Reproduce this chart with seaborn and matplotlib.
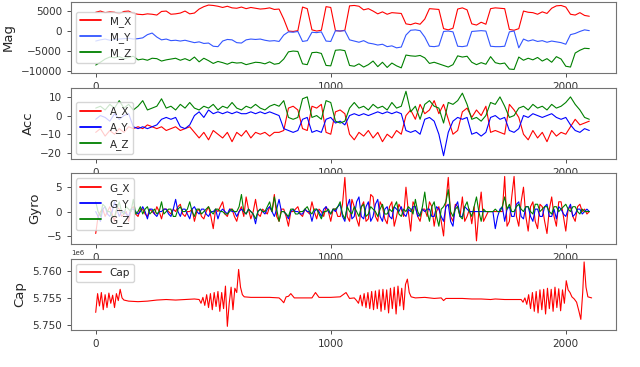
import numpy as np
import pandas as pd
import seaborn as sns
import matplotlib.pyplot as plt

# sample index (every 20th sample) for Mag / Acc, every 10th for Gyro
idx = np.arange(0, 2101, 20)
idx_g = np.arange(0, 2101, 10)

# magnetometer
m_x = [4700, 5000, 4600, 4800, 4700, 4300, 4900, 5000, 4400, 4200,
       4100, 4300, 4200, 4000, 4900, 5000, 4200, 4300, 4500, 5000,
       4300, 4500, 5500, 6100, 6500, 6400, 6200, 5900, 6200, 5800,
       5700, 6000, 5600, 5900, 5700, 5500, 5600, 5800, 5400, 5500,
       3000, 0, -100, 100, 6000, 5600, 300, 0, 200, 6100,
       5900, 100, 0, 200, 6300, 6400, 6200, 5300, 5600, 5000,
       4300, 4800, 4200, 4600, 4500, 4400, 1800, 1600, 2000, 1700,
       3000, 5600, 5500, 5400, 600, 300, 700, 5500, 5800, 5300,
       1800, 1500, 2200, 1700, 5600, 5800, 5700, 5600, 400, 200,
       600, 5000, 4700, 4600, 4200, 4800, 4400, 5700, 6300, 6400,
       6000, 4200, 4000, 4600, 3900, 3700]
m_y = [-2500, -2200, -2000, -2300, -2100, -2000, -1900, -1800, -2000, -1900,
       -1700, -900, -500, -1500, -2200, -2000, -2400, -2300, -2500, -2300,
       -2600, -2900, -2700, -3100, -3000, -3800, -3900, -2500, -2100, -2200,
       -2900, -3000, -2200, -2000, -2100, -2000, -2300, -2500, -2400, -2600,
       -1000, -200, -300, -100, -2600, -2400, -300, -400, -200, -2500,
       -2600, 100, 0, 100, -2200, -2500, -2800, -2400, -3000, -3200,
       -3500, -3300, -3900, -3700, -4200, -4000, -1000, 200, 300, 100,
       -1500, -3800, -3900, -3700, -100, 0, -200, -3800, -3900, -3700,
       -100, 0, 100, 0, -3800, -3900, -3900, -3800, -200, 0,
       -4200, -2000, -2500, -2200, -2600, -2400, -2800, -2500, -2700, -2900,
       -3300, -900, -600, -100, 300, 100]
m_z = [-8500, -7800, -7000, -6500, -6700, -6400, -6900, -6600, -6300, -7200,
       -7000, -7300, -6800, -6900, -7500, -7200, -7000, -6800, -7300, -6900,
       -7400, -6500, -7700, -6800, -7400, -8100, -7600, -7900, -8300, -7800,
       -8000, -7900, -8400, -8100, -7800, -7900, -8200, -7700, -8300, -8100,
       -7000, -5200, -5000, -5100, -8200, -8400, -5400, -5300, -5600, -8600,
       -8700, -4800, -4700, -4900, -8600, -8800, -8200, -9000, -8400, -7500,
       -8900, -7800, -9100, -8000, -8700, -9200, -6000, -6200, -6300, -6100,
       -6700, -8100, -7800, -8200, -8600, -9000, -8400, -6200, -6500, -6300,
       -7800, -8400, -7900, -8300, -6400, -7900, -8200, -8000, -9500, -9600,
       -6500, -7300, -6800, -7200, -6600, -7500, -6900, -7800, -6400, -7000,
       -8800, -9000, -5500, -4800, -4300, -4400]

# accelerometer
a_x = [-9, -7, -11, -8, -10, -7, -9, -6, -7, -6,
       -7, -5, -6, -7, -6, -8, -7, -6, -8, -7,
       -6, -9, -12, -9, -13, -8, -10, -12, -9, -14,
       -9, -11, -8, -12, -9, -10, -9, -11, -9, -9,
       -8, 4, 5, 3, -7, -8, 5, 4, 6, -9,
       -10, 2, 3, 1, -10, -13, -9, -11, -8, -12,
       -9, -14, -10, -12, -8, -10, 0, 3, -2, 6,
       1, 3, 8, 1, 6, -2, -10, -8, 2, 4,
       -1, 3, 0, 5, -9, -8, -9, -10, 6, 3,
       -1, -10, -13, -8, -12, -9, -14, -8, -11, -9,
       -10, -6, -2, -5, -4, -3]
a_y = [-2, 0, -1, -3, 1, -2, 0, 1, -6, -7,
       -6, -7, -6, -5, -2, -1, -2, -1, -6, -7,
       -5, 0, 2, -1, 3, 1, 2, 1, 2, 1,
       2, 1, 1, 2, 1, 2, 1, 2, 1, 0,
       -7, -8, -9, -8, -2, -1, -9, -8, -9, -2,
       -1, -4, -3, -5, 0, 1, 0, 1, 0, 1,
       2, 1, 2, 1, 2, 1, -8, -9, -8, -10,
       -2, -1, -3, -10, -21.5, -9, -3, -1, -2, -1,
       -10, -9, -11, -9, -1, 0, -2, -1, -8, -9,
       -7, 0, -1, 1, 0, -1, 0, 1, -1, -2,
       -1, -5, -8, -9, -7, -8]
a_z = [4, 5, 3, 6, 4, 8, 4, 6, 3, 5,
       8, 3, 4, 5, 9, 4, 5, 3, 6, 4,
       7, 4, 3, 5, 4, 6, 3, 5, 4, 7,
       4, 3, 5, 4, 6, 4, 3, 5, 6, 5,
       8, -1, -2, -1, 9, 10, -1, 0, -2, 8,
       7, -3, -4, -3, 4, 7, 4, 5, 3, 6,
       4, 5, 3, 7, 4, 5, 13, 2, 5, -2,
       6, 8, 5, 4, -4, 7, 6, 8, 12, 6,
       -2, -1, -3, 0, 7, 6, 10, 5, -1, 0,
       4, 5, 3, 6, 4, 5, 3, 6, 4, 5,
       7, 10, 6, 3, -1, -2]

# gyroscope (every 10th sample)
g_x = [-4.5, -1, 0, 0.5, -1, 0, 1, -0.5, -2, 1, 0.5, -1, -0.5, 0, -2, 0.5, 1, -0.5, -1, 0.5,
       0.5, -0.5, -1, 0.5, 0, -0.5, 1, 0, -1.5, 0.5, 0.5, 0, -0.5, 0.5, 0, 1, 1.5, -0.5, -1, 0,
       0, 0.5, -2, 0, 0.5, -1, -1.5, 0, 1, -1, -3.5, 0.5, 0, 1, 2, -0.5, -1, 0.5, 0.5, -1,
       -2, 0, 1, -1, 3, 0.5, -1.5, 0, 2.5, -0.5, -1, 0.5, 0, -0.5, 1, 0, 3.5, -1, -2, 0.5,
       0.5, -1, -3, 0, 0, 0.5, 1, -0.5, -1, 0.5, 0, -0.5, 2, 0, -1.5, 0.5, 0, -1, 1, 0,
       -2, 0.5, 0.5, -1, -1, 1.5, 7, -1, -2, 2.5, 1, -1.5, -3, 1, 2, -2, -1.5, 3.5, 3, -1,
       -2, 2, 1, -1.5, -2.5, 1, 2, -3, -1, 1.5, 0.5, -1, 5, 0, -4, 2, 1, -1, -2, 0.5,
       0.5, -1, 2, 1, -3, 0, 1, -2, -5, 2, 7, -1, -2, 1.5, 1, -1, 3, -2, -1, 0.5,
       -2.5, 1, -6, 0, 4, -2, -1, 0, 0, 0, 0, 0, 0, 0, 7.2, -3, -2, 3, 7.2, -1,
       -3, 2, 5, -1, -4, 1, 2, -2, -3.5, 1.5, 1, -2, -4.5, 0.5, 3, -1, -3, 2, 2, -1,
       -4, 0.5, 1, -1, -2, 1, 1.5, 0, 0.5, -0.5, 0]
g_y = [0, -1, -2, 0.5, 1, -0.5, -1, 0, 2, 0.5, -1, 0, 0, -0.5, -1, 0.5, 0.5, 0, -0.5, 0,
       1, 0, -1.5, 0.5, 0.5, -0.5, -1, 0, 0, 0.5, 0.5, -0.5, -1, 0.5, 2.5, 0, -1, 0.5, 0.5, -0.5,
       -1.5, 0.5, 1, 0, -0.5, 0.5, 0.5, -0.5, -1, 0, 0, 0.5, -1.5, 0, 0.5, 0, -0.5, 0.5, 0, 0,
       -1, 0, 0.5, 0, -0.5, 0.5, 0, -0.5, -2.5, 0, 0.5, 0, -0.5, 0.5, 1, 0, -1, 0.5, 2.5, 0,
       0, -0.5, -1.5, 0, 0.5, 0, 0, -0.5, -0.5, 0.5, 0, 0, -2, 0, 0.5, 0, -1, 0.5, 1, 0,
       -0.5, 0.5, 0, 1, 1.5, -1, -2, 1, 2.5, -1.5, -1, 2, 3, -1, -1.5, 1, 2, -2, -1, 1.5,
       2.5, -1, -2, 0.5, 1, -1, -1.5, 1, 0.5, 0, 1, -0.5, -1, 0.5, 0, 1, 1, -1, -0.5, 0.5,
       0, 0.5, 0.5, -1, -1, 1, 0.5, -1, -2, 1, 1.5, -2, -3, 1, 2, -1, -1, 1, 0.5, 0,
       0, 0, 0, 0, 0, 0, 0, 0, 0, 0, -3.5, -1, 0.5, 1, -2, 0.5, 1, -1, -1, 1.5,
       2, -1, -1.5, 1, 1, -1, -2, 0.5, 0.5, -1, -1, 1, 1.5, -1, -1, 0.5, -1.5, 1, 0.5, -0.5,
       -1, 0.5, 1.5, -1, -0.5, 0.5, 0.5, -0.5, 0, 0.5, 0]
g_z = [2, 0, -1, 1.5, 1, 0, 0, -1, -1, 0.5, 2, 0, -0.5, 1, 0.5, 0, 2.5, -0.5, 0, 1,
       -0.5, 0.5, 1, -0.5, 0, 0.5, -0.5, 0, 2, -0.5, 0, 0.5, 0.5, -1, -1, 0.5, 1, 0, 0, 0.5,
       2, 0, -1, 0.5, 0.5, -0.5, 0, 0.5, 1, 0, -0.5, 0.5, 0.5, 0, 0, -0.5, -0.5, 0, 0.5, 0,
       0, 1, 3.5, 0, -0.5, 0.5, 0, -0.5, -1.5, 0, 0.5, 0, 0, 1, 2, 0, 3, 0.5, -2, 0,
       0, -0.5, -1, 0.5, 0.5, -0.5, -0.5, 0, 0, 0.5, 1, 0, -0.5, 0.5, 0.5, -0.5, -1.5, 0, 0, 0.5,
       -0.5, 0.5, 0.5, 1, 2, -0.5, -1.5, 1, 0, -0.5, 1, 0, -1, 1, 1.5, -1, -0.5, 1, 0.5, 0,
       -1, 0.5, 1.5, -0.5, -0.5, 0.5, 0, 1, 2, -0.5, -1, 0.5, 0, 1, 0.5, -0.5, 2.5, 0, -1, 1,
       4, 0, -2, 1, 2, -1, -3, 0.5, 1, 2, 4.5, 0, -1, 0.5, 1, -1, -1.5, 1, 2, 0,
       -1, 1, 3, 0, -2, 0.5, 0, 0, 0, 0, 0.5, 0, 0, 1, 3, 0.5, 1.5, 0, 0, 1,
       1.5, 0.5, 0, 1, 1, 0, -0.5, 1.5, 1.5, 0, 0.5, 1, 1, 0, -0.5, 1, 1, 0, 0.5, 1,
       1.5, 0.5, 0, 1, 1, 0, -0.5, 0.5, 0, 0, 0]

# capacitance (x 1e6), read at uneven sample positions
cap_idx = [0, 8, 16, 24, 32, 40, 48, 56, 64, 72, 80, 88, 96, 104, 112, 120,
           140, 180, 220, 260, 300, 340, 380, 420, 440,
           448, 456, 464, 472, 480, 488, 496, 504, 512, 520, 528, 536, 544, 552,
           560, 568, 576, 584, 592, 600, 608, 616, 624, 632,
           660, 700, 740, 780, 790, 800, 810, 820, 830, 845, 880, 920, 935, 950,
           1000, 1040, 1065, 1080, 1100,
           1110, 1118, 1126, 1134, 1142, 1150, 1158, 1166, 1174, 1182, 1190, 1198,
           1206, 1214, 1222, 1230, 1238, 1246, 1254, 1262, 1270, 1278, 1286, 1294,
           1302, 1310, 1318, 1326, 1334, 1342,
           1360, 1400, 1440, 1470, 1480, 1490, 1520, 1560, 1600, 1640, 1680, 1700,
           1740, 1780, 1810,
           1818, 1826, 1834, 1842, 1850, 1858, 1866, 1874, 1882, 1890, 1898, 1906,
           1914, 1922, 1930, 1938, 1946, 1954, 1962, 1970, 1978, 1986, 1994, 2002,
           2010, 2018, 2026,
           2036, 2046, 2056, 2064, 2072, 2078, 2086, 2094, 2110]
cap = [5.7523, 5.7558, 5.7535, 5.7560, 5.7528, 5.7556, 5.7532, 5.7559, 5.7540, 5.7555,
       5.7532, 5.7558, 5.7545, 5.7566, 5.7550, 5.7546,
       5.7544, 5.7543, 5.7544, 5.7546, 5.7547, 5.7546, 5.7547, 5.7548, 5.7547,
       5.7540, 5.7551, 5.7536, 5.7556, 5.7532, 5.7558, 5.7528, 5.7560, 5.7534, 5.7562,
       5.7525, 5.7560, 5.7530, 5.7572,
       5.7497, 5.7540, 5.7570, 5.7528, 5.7568, 5.7560, 5.7603, 5.7570, 5.7556, 5.7552,
       5.7551, 5.7551, 5.7551, 5.7550, 5.7546, 5.7541, 5.7552, 5.7553, 5.7558, 5.7550,
       5.7550, 5.7550, 5.7560, 5.7551,
       5.7551, 5.7552, 5.7560, 5.7549, 5.7550,
       5.7545, 5.7540, 5.7555, 5.7535, 5.7558, 5.7532, 5.7560, 5.7530, 5.7562, 5.7528,
       5.7563, 5.7530,
       5.7565, 5.7525, 5.7566, 5.7528, 5.7565, 5.7522, 5.7568, 5.7530, 5.7570, 5.7520,
       5.7572, 5.7535,
       5.7568, 5.7528, 5.7575, 5.7585, 5.7560, 5.7552,
       5.7550, 5.7551, 5.7549, 5.7550, 5.7545, 5.7549, 5.7549, 5.7549, 5.7548, 5.7548,
       5.7547, 5.7548,
       5.7547, 5.7547, 5.7547,
       5.7542, 5.7550, 5.7538, 5.7556, 5.7530, 5.7560, 5.7525, 5.7562, 5.7522, 5.7565,
       5.7528, 5.7566,
       5.7520, 5.7568, 5.7530, 5.7566, 5.7525, 5.7570, 5.7532, 5.7567, 5.7526, 5.7565,
       5.7540, 5.7582,
       5.7565, 5.7560, 5.7552,
       5.7548, 5.7542, 5.7525, 5.7510, 5.7560, 5.7617, 5.7570, 5.7552, 5.7550]

sns.set_style("ticks", {"axes.edgecolor": "0.45", "xtick.color": "0.2", "ytick.color": "0.2"})
plt.rcParams["font.family"] = ["DejaVu Sans"]

fig = plt.figure(figsize=(6.4, 3.67), dpi=100)
pos = [[0.111, 0.802, 0.852, 0.193],
       [0.111, 0.567, 0.852, 0.193],
       [0.111, 0.335, 0.852, 0.193],
       [0.111, 0.102, 0.852, 0.193]]
axes = [fig.add_axes(p) for p in pos]

panels = [
    ("Mag", idx, [("M_X", m_x, "red"), ("M_Y", m_y, "#3355ff"), ("M_Z", m_z, "green")], "center left"),
    ("Acc", idx, [("A_X", a_x, "red"), ("A_Y", a_y, "blue"), ("A_Z", a_z, "green")], "lower left"),
    ("Gyro", idx_g, [("G_X", g_x, "red"), ("G_Y", g_y, "blue"), ("G_Z", g_z, "green")], "upper left"),
    ("Cap", np.array(cap_idx), [("Cap", np.array(cap) * 1e6, "red")], "upper left"),
]

for ax, (name, xs, series, loc) in zip(axes, panels):
    for lab, vals, col in series:
        sns.lineplot(x=xs, y=vals, ax=ax, color=col, label=lab, linewidth=0.8)
    ax.set_ylabel(name, fontsize=9.5)
    ax.set_xlabel("")
    ax.set_xlim(-105, 2215)
    ax.set_xticks([0, 1000, 2000])
    ax.tick_params(labelsize=7.5, length=3, width=0.6)
    leg = ax.legend(loc=loc, fontsize=7.5, framealpha=0.8)
    for ln, (lab, vals, col) in zip(leg.get_lines(), series):
        ln.set_color(col)
        ln.set_linewidth(1.3)
    for s in ax.spines.values():
        s.set_linewidth(0.8)

axes[0].set_yticks([-10000, -5000, 0, 5000])
axes[1].set_yticks([-20, -10, 0, 10])
axes[2].set_yticks([-5, 0, 5])
axes[3].set_yticks([5.750e6, 5.755e6, 5.760e6])
axes[3].ticklabel_format(axis="y", style="sci", scilimits=(0, 0), useOffset=False)
axes[3].yaxis.get_offset_text().set_fontsize(5)

plt.savefig("out.png", dpi=100)
